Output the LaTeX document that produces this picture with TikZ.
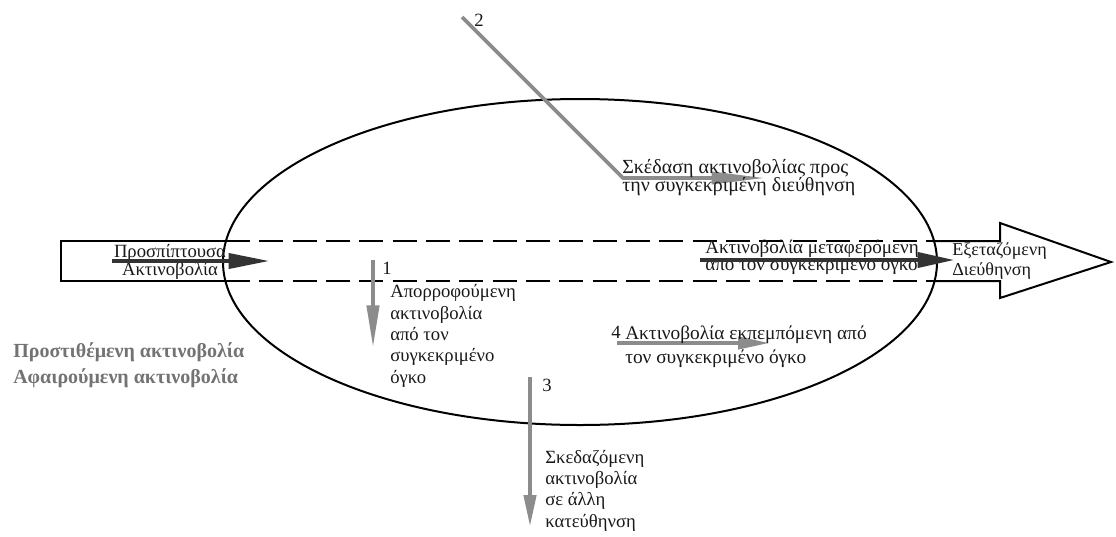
\documentclass[tikz,border=0pt]{standalone}
\usepackage{fontspec}
\setmainfont{Liberation Serif}
\usetikzlibrary{arrows.meta}
\newcommand{\labfont}[2]{\fontsize{#1}{#2}\selectfont\lineskiplimit=-10pt\relax}

\begin{document}
\begin{tikzpicture}[x=0.75pt, y=-0.75pt,
  lab/.style={font=\labfont{14}{16}, align=left, anchor=base west, inner sep=0pt, text=black!90},
  grayarr/.style={draw=black!45, line width=3.2pt, -{Triangle[length=#1,width=9pt]}},
  grayarr/.default=28pt,
  darkarr/.style={draw=black!80, line width=3.5pt, -{Triangle[length=#1,width=11pt]}},
  darkarr/.default=30pt,
  box/.style={line width=1.5pt},
  dbox/.style={line width=1.5pt, dash pattern=on 18pt off 7pt}]
  \useasboundingbox (0,0) rectangle (1116,536);

  % Όγκος
  \coordinate (kentro) at (580,262);
  \draw[box] (kentro) ellipse [x radius=357, y radius=163];

  % Εξεταζόμενη διεύθυνση
  \draw[box] (226,241) -- (61,241) -- (61,281) -- (226,281);
  \draw[dbox] (226,241) -- (934,241);
  \draw[dbox] (226,281) -- (934,281);
  \draw[box, line join=miter] (934,241) -- (1000,241) -- (1000,223) -- (1111,262)
    -- (1000,298) -- (1000,281) -- (934,281);

  % Προσπίπτουσα και μεταφερόμενη
  \node[lab, align=center, anchor=base, font=\labfont{14}{13.5}] (inc) at (170,275) {Προσπίπτουσα\\Ακτινοβολία};
  \coordinate (incs) at (112,261);
  \coordinate (ince) at (270,261);
  \draw[darkarr=31pt] (incs) -- (ince);
  \node[lab, font=\labfont{14.3}{12.75}] (trans) at (705,270) {Ακτινοβολία μεταφερόμενη\\απο τον συγκεκριμενο ογκο};
  \coordinate (trs) at (700,260);
  \coordinate (tre) at (955,260);
  \draw[darkarr=28pt] (trs) -- (tre);
  \node[lab, font=\labfont{13.6}{15}] (dir) at (952,275) {Εξεταζόμενη\\Διεύθηνση};

  % 1: απορρόφηση
  \coordinate (a1s) at (373,260);
  \coordinate (a1e) at (373,348);
  \draw[grayarr=32pt] (a1s) -- (a1e);
  \node[lab] (n1) at (382,274) {1};
  \node[lab] (abs) at (390,383) {Απορροφούμενη\\ακτινοβολία\\από τον\\συγκεκριμένο\\όγκο};

  % 2: σκέδαση προς τη διεύθυνση
  \coordinate (a2s) at (462,17);
  \coordinate (a2m) at (623,178);
  \coordinate (a2e) at (765,178);
  \draw[grayarr=40pt, line width=2.8pt, line join=miter] (a2s) -- (a2m) -- (a2e);
  \node[lab] (n2) at (474,26) {2};
  \node[lab, font=\labfont{15}{13.5}] (scin) at (622,191) {Σκέδαση ακτινοβολίας προς\\την συγκεκριμένη διεύθηνση};

  % 3: σκέδαση σε άλλη κατεύθυνση
  \coordinate (a3s) at (530,377);
  \coordinate (a3e) at (530,527);
  \draw[grayarr=24pt] (a3s) -- (a3e);
  \node[lab] (n3) at (542,391) {3};
  \node[lab] (scout) at (545,527) {Σκεδαζόμενη\\ακτινοβολία\\σε άλλη\\κατεύθηνση};

  % 4: εκπομπή
  \coordinate (a4s) at (617,343);
  \coordinate (a4e) at (770,343);
  \draw[grayarr=24pt] (a4s) -- (a4e);
  \node[lab] (n4) at (611,338) {4};
  \node[lab, font=\labfont{14.5}{18}] (emi) at (625,363) {Ακτινοβολία εκπεμπόμενη από\\τον συγκεκριμένο όγκο};

  % Υπόμνημα
  \node[lab, font=\bfseries\labfont{15}{19}, text=black!55] (legend) at (13,383) {Προστιθέμενη ακτινοβολία\\Αφαιρούμενη ακτινοβολία};
\end{tikzpicture}
\end{document}
